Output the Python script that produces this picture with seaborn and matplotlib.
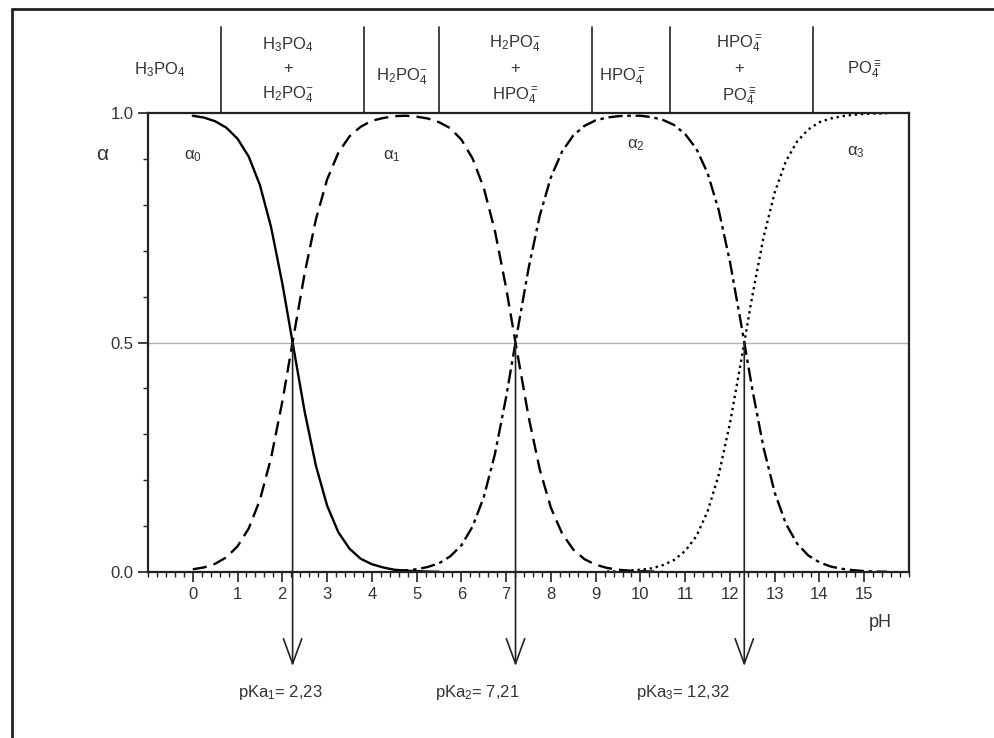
import matplotlib
matplotlib.use("Agg")
import matplotlib.pyplot as plt
from matplotlib.lines import Line2D
from matplotlib.ticker import MultipleLocator, FormatStrFormatter
import numpy as np
import pandas as pd
import seaborn as sns

# ── Data (fractions alpha vs pH) ──────────────────────────────────────────────
ph = np.arange(0, 15.51, 0.25)
nan = np.nan

alpha0 = [0.994, 0.990, 0.982, 0.968, 0.944, 0.905, 0.843, 0.751, 0.629, 0.489,
          0.349, 0.232, 0.145, 0.087, 0.051, 0.029, 0.017, 0.010, 0.005, 0.003,
          0.002, 0.001, 0.0005] + [nan] * 40
alpha1 = [0.006, 0.010, 0.018, 0.032, 0.056, 0.095, 0.157, 0.249, 0.371, 0.512,
          0.651, 0.768, 0.855, 0.913, 0.949, 0.970, 0.983, 0.989, 0.993, 0.994,
          0.992, 0.988, 0.980, 0.967, 0.942, 0.901, 0.837, 0.743, 0.619, 0.477,
          0.339, 0.224, 0.140, 0.084, 0.049, 0.028, 0.016, 0.009, 0.005, 0.003,
          0.002, 0.001, 0.0005] + [nan] * 20
alpha2 = [nan] * 18 + [0.002, 0.0035, 0.006, 0.011, 0.019, 0.034, 0.058, 0.099, 0.163, 0.257,
                       0.381, 0.523, 0.661, 0.776, 0.860, 0.916, 0.951, 0.972, 0.984, 0.990,
                       0.993, 0.994, 0.994, 0.991, 0.985, 0.974, 0.954, 0.922, 0.869, 0.788,
                       0.676, 0.540, 0.398, 0.271, 0.173, 0.105, 0.062, 0.036, 0.021, 0.012,
                       0.007, 0.004, 0.002, 0.001, 0.0007]
alpha3 = [nan] * 37 + [0.001, 0.0015, 0.003, 0.005, 0.008, 0.015, 0.026, 0.046, 0.078, 0.132,
                       0.212, 0.324, 0.460, 0.602, 0.729, 0.827, 0.895, 0.938, 0.964, 0.980,
                       0.988, 0.993, 0.996, 0.998, 0.999, 0.999]

pka_values = [2.23, 7.21, 12.32]
pka_labels = [r"pKa$_1$= 2,23", r"pKa$_2$= 7,21", r"pKa$_3$= 12,32"]
pka_label_x = [1.95, 6.35, 10.95]

# species band above the plot
band_edges = [0.64, 3.82, 5.51, 8.91, 10.65, 13.86]
band_x = [-0.75, 2.12, 4.67, 7.2, 9.6, 12.2, 15.0]
band_y = [1.094, 1.094, 1.08, 1.094, 1.08, 1.094, 1.096]
band_labels = [
    r"$\mathrm{H_3PO_4}$",
    r"$\mathrm{H_3PO_4}$" + "\n+\n" + r"$\mathrm{H_2PO_4^{-}}$",
    r"$\mathrm{H_2PO_4^{-}}$",
    r"$\mathrm{H_2PO_4^{-}}$" + "\n+\n" + r"$\mathrm{HPO_4^{=}}$",
    r"$\mathrm{HPO_4^{=}}$",
    r"$\mathrm{HPO_4^{=}}$" + "\n+\n" + r"$\mathrm{PO_4^{\equiv}}$",
    r"$\mathrm{PO_4^{\equiv}}$",
]

curve_labels = [r"$\alpha_0$", r"$\alpha_1$", r"$\alpha_2$", r"$\alpha_3$"]
curve_label_x = [0.0, 4.45, 9.9, 14.8]
curve_label_y = [0.905, 0.905, 0.93, 0.915]

# ── Long format table ─────────────────────────────────────────────────────────
frames = []
for name, vals in zip(["a0", "a1", "a2", "a3"], [alpha0, alpha1, alpha2, alpha3]):
    frames.append(pd.DataFrame({"pH": ph, "alpha": vals, "species": name}))
df = pd.concat(frames).dropna()

# ── Plot ──────────────────────────────────────────────────────────────────────
sns.set_style("ticks")
plt.rcParams["font.family"] = ["Liberation Sans", "DejaVu Sans"]
plt.rcParams["mathtext.fontset"] = "custom"
plt.rcParams["mathtext.rm"] = "Liberation Sans"
plt.rcParams["mathtext.it"] = "Liberation Sans"
plt.rcParams["mathtext.sf"] = "Liberation Sans"

fig = plt.figure(figsize=(9.94, 7.38), dpi=100)
ax = fig.add_axes([0.1489, 0.2249, 0.7656, 0.622])

text_col = "#333333"

sns.lineplot(
    data=df, x="pH", y="alpha", style="species", color="black",
    dashes={"a0": "", "a1": (6, 3), "a2": (6, 2, 1.5, 2), "a3": (1, 1.6)},
    estimator=None, legend=False, lw=1.7, ax=ax,
)

ax.axhline(0.5, color="#b0b0b0", lw=1.0, zorder=0)

ax.set_xlim(-1, 16)
ax.set_ylim(0, 1)
ax.set_xticks(range(0, 16))
ax.xaxis.set_minor_locator(MultipleLocator(0.2))
ax.set_yticks([0, 0.5, 1.0])
ax.yaxis.set_minor_locator(MultipleLocator(0.1))
ax.yaxis.set_major_formatter(FormatStrFormatter("%.1f"))
ax.tick_params(which="major", direction="out", length=7, width=1.2,
               labelsize=12, labelcolor=text_col, color="#222222")
ax.tick_params(which="minor", direction="out", length=3.5, width=1.0, color="#222222")
ax.set_xlabel("")
ax.set_ylabel("")
for sp in ax.spines.values():
    sp.set_linewidth(1.6)
    sp.set_color("#222222")

# curve labels
for lab, x, y in zip(curve_labels, curve_label_x, curve_label_y):
    ax.text(x, y, lab, ha="center", va="center", fontsize=12, color=text_col)

ax.text(-2.0, 0.91, r"$\alpha$", ha="center", va="center", fontsize=15, color=text_col)
ax.text(15.35, -0.11, "pH", ha="center", va="center", fontsize=13, color=text_col,
        clip_on=False)

# pKa arrows and labels
for pk, lab, lx in zip(pka_values, pka_labels, pka_label_x):
    ax.annotate("", xy=(pk, -0.205), xytext=(pk, 0.5),
                arrowprops=dict(arrowstyle="->,head_length=0.9,head_width=0.33",
                                mutation_scale=20, lw=1.2, color="#222222",
                                shrinkA=0, shrinkB=0),
                annotation_clip=False)
    ax.text(lx, -0.262, lab, ha="center", va="center", fontsize=12, color=text_col)

# species band
for e in band_edges:
    ax.plot([e, e], [1.0, 1.187], color="#222222", lw=1.2, clip_on=False)
for x, y, lab in zip(band_x, band_y, band_labels):
    ax.text(x, y, lab, ha="center", va="center", fontsize=12,
            color=text_col, linespacing=1.6, clip_on=False)

# outer frame (top and left edge of the original page box)
fig.add_artist(Line2D([0.012, 1.0], [0.988, 0.988], transform=fig.transFigure,
                      color="#222222", lw=2))
fig.add_artist(Line2D([0.012, 0.012], [0.0, 0.988], transform=fig.transFigure,
                      color="#222222", lw=2))

fig.savefig("out.png", dpi=100)
plt.close(fig)
